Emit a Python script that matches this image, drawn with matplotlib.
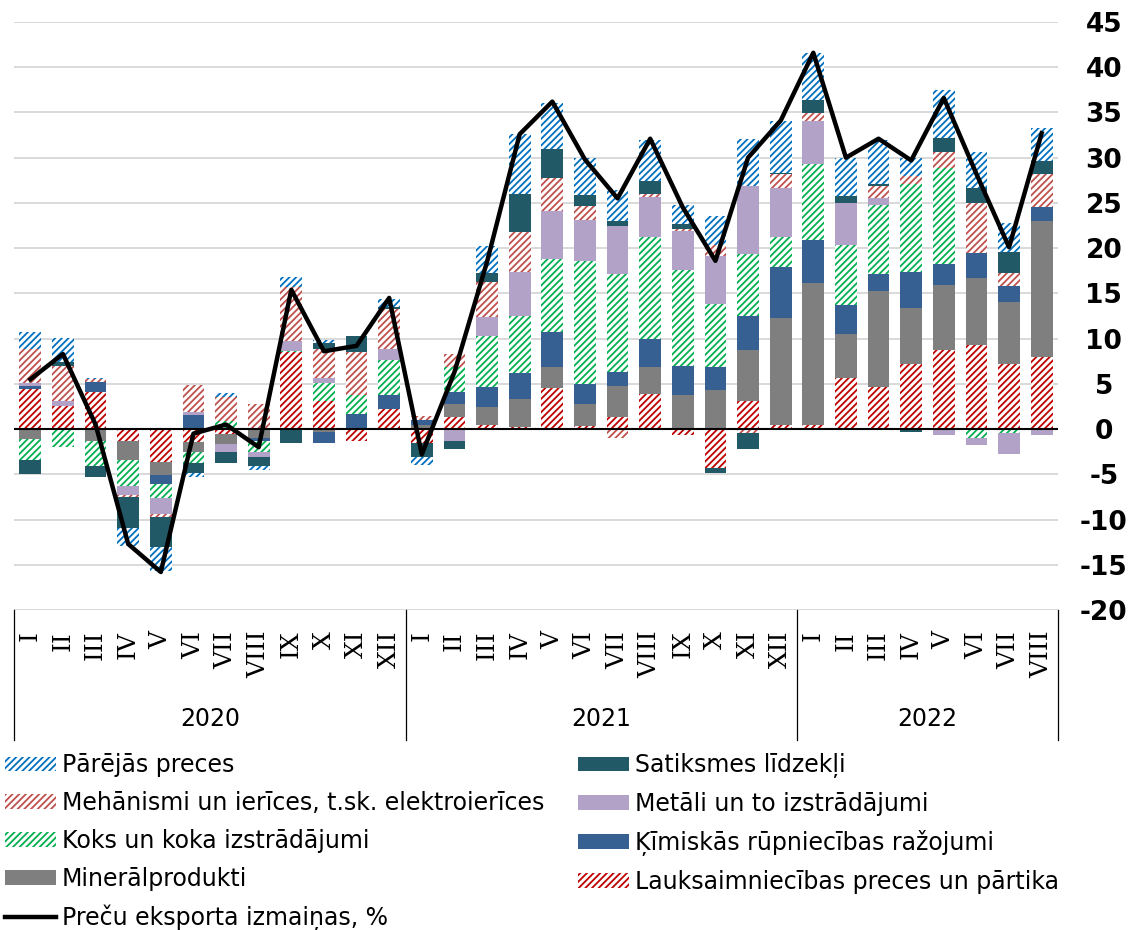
import matplotlib.pyplot as plt
import matplotlib.transforms as mtransforms
import numpy as np

# months 2020 I - 2022 VIII
roman = ['I', 'II', 'III', 'IV', 'V', 'VI', 'VII', 'VIII', 'IX', 'X', 'XI', 'XII']
months = roman + roman + roman[:8]
years = ['2020', '2021', '2022']

# contributions to export change, percentage points
lauks = [4.4, 2.6, 4.1, -1.3, -3.6, -1.4, -0.5, 0, 8.5, 3.1, -1.3, 2.2,
         -1.5, 1.3, 0.4, 0.2, 4.5, 0.3, 1.3, 3.9, -0.7, -4.3, 3.1, 0.4,
         0.4, 5.6, 4.6, 7.2, 8.7, 9.3, 7.2, 8.0]
mineral = [-1.1, 0, -1.3, -2.1, -1.5, -1.1, -1.1, -1.0, 0, -0.3, 0, 0,
           0.5, 1.5, 2.0, 3.1, 2.4, 2.5, 3.5, 3.0, 3.8, 4.3, 5.6, 11.9,
           15.7, 4.9, 10.7, 6.2, 7.2, 7.4, 6.8, 15.0]
kimiskas = [0.4, 0, 1.1, 0, -1.0, 1.6, 0, -0.3, 0, -1.2, 1.7, 1.6,
            0.5, 1.3, 2.2, 2.9, 3.8, 2.2, 1.5, 3.1, 3.2, 2.6, 3.8, 5.6,
            4.8, 3.2, 1.8, 4.0, 2.3, 2.8, 1.8, 1.6]
koks = [-2.3, -2.0, -2.8, -2.9, -1.5, -1.3, 0.9, -1.2, 0.1, 2.0, 2.1, 3.8,
        0, 2.8, 5.7, 6.3, 8.1, 13.6, 10.8, 11.2, 10.6, 6.9, 6.9, 3.3,
        8.4, 6.7, 7.7, 9.7, 10.7, -1.0, -0.4, 0]
metali = [0.3, 0.5, 0, -1.0, -1.8, 0.3, -0.9, -0.6, 1.1, 0.5, 0, 1.2,
          0, -1.3, 2.1, 4.9, 5.3, 4.5, 5.3, 4.5, 4.3, 5.3, 7.5, 5.4,
          4.8, 4.6, 0.7, 0, -0.7, -0.8, -2.4, -0.7]
mehanismi = [3.7, 3.9, 0.3, -0.2, -0.3, 3.0, 2.7, 2.8, 6.0, 3.2, 4.7, 4.5,
             0.4, 1.4, 3.9, 4.4, 3.6, 1.6, -1.0, 0.3, 0.2, 1.3, -0.4, 1.6,
             0.8, 0, 1.4, 0.9, 1.7, 5.5, 1.5, 3.6]
satiksme = [-1.6, 0.4, -1.2, -3.4, -3.3, -1.1, -1.2, -1.0, -1.5, 0.7, 1.8, 0.2,
            -1.6, -0.9, 1.0, 4.2, 3.3, 1.2, 0.6, 1.4, 0.6, -0.6, -1.8, 0.1,
            1.5, 0.8, 0.2, -0.3, 1.6, 1.7, 2.3, 1.4]
parejas = [1.9, 2.7, 0.2, -2.0, -2.7, -0.4, 0.4, -0.4, 1.1, 0.4, 0, 0.9,
           -0.9, 0, 2.9, 6.6, 5.0, 4.1, 3.4, 4.6, 2.1, 3.1, 5.2, 5.8,
           5.2, 4.2, 4.9, 2.0, 5.3, 3.9, 3.2, 3.7]
eksports = [5.5, 8.3, 0.5, -12.7, -15.8, -0.5, 0.5, -2.0, 15.4, 8.6, 9.2, 14.5,
            -2.8, 6.3, 18.5, 32.6, 36.2, 29.8, 25.5, 32.1, 24.5, 18.6, 30.0, 34.1,
            41.6, 30.0, 32.1, 29.7, 36.6, 28.2, 20.1, 32.7]

# (values, label, colour, hatched?)  - stacking order from the zero line out
series = [
    (lauks, 'Lauksaimniecības preces un pārtika', '#C00000', True),
    (mineral, 'Minerālprodukti', '#7F7F7F', False),
    (kimiskas, 'Ķīmiskās rūpniecības ražojumi', '#376092', False),
    (koks, 'Koks un koka izstrādājumi', '#00B050', True),
    (metali, 'Metāli un to izstrādājumi', '#B3A2C7', False),
    (mehanismi, 'Mehānismi un ierīces, t.sk. elektroierīces', '#C0504D', True),
    (satiksme, 'Satiksmes līdzekļi', '#215967', False),
    (parejas, 'Pārējās preces', '#0070C0', True),
]

plt.rcParams['hatch.linewidth'] = 1.3

fig = plt.figure(figsize=(11.42, 9.30), dpi=100)
ax = fig.add_axes([14 / 1142, 1 - 610 / 930, 1044 / 1142, 588 / 930])

x = np.arange(len(months))
width = 0.67
pos = np.zeros(len(x))
neg = np.zeros(len(x))
handles = {}
for vals, label, col, hatched in series:
    v = np.array(vals, dtype=float)
    bottom = np.where(v >= 0, pos, neg)
    if hatched:
        b = ax.bar(x, v, width, bottom=bottom, color='white', edgecolor=col,
                   hatch='/////', linewidth=0, label=label, zorder=2)
    else:
        b = ax.bar(x, v, width, bottom=bottom, color=col, linewidth=0,
                   label=label, zorder=2)
    handles[label] = b
    pos += np.clip(v, 0, None)
    neg += np.clip(v, None, 0)

ax.axhline(0, color='black', lw=1.5, zorder=3)
ln, = ax.plot(x, eksports, color='black', lw=3.2, zorder=4)
handles['Preču eksporta izmaiņas, %'] = ln

# axes
ax.set_xlim(-0.5, len(x) - 0.5)
ax.set_ylim(-20, 45)
for s in ax.spines.values():
    s.set_visible(False)
ax.set_axisbelow(True)
ax.yaxis.grid(True, color='#D9D9D9', lw=1.4)
ax.yaxis.tick_right()
yt = list(range(-20, 50, 5))
ax.set_yticks(yt)
ax.set_yticklabels([str(t) for t in yt], fontsize=19, fontweight='bold', ha='center')
ax.tick_params(axis='y', length=0, pad=33)
ax.set_xticks(x)
ax.set_xticklabels(months, rotation=90, fontsize=18, family='DejaVu Serif')
ax.tick_params(axis='x', length=0, pad=15)

# year groups under the month labels
trans = mtransforms.blended_transform_factory(ax.transData, ax.transAxes)
for xs in [-0.5, 11.5, 23.5, 31.5]:
    ax.plot([xs, xs], [0, -0.221], transform=trans, color='black', lw=0.9, clip_on=False)
for i, yr in enumerate(years):
    start = i * 12 - 0.5
    end = min(start + 12, len(x) - 0.5)
    ax.text((start + end) / 2, -0.186, yr, transform=trans, ha='center', va='center', fontsize=17)

# legend in two columns
col1 = ['Pārējās preces', 'Mehānismi un ierīces, t.sk. elektroierīces',
        'Koks un koka izstrādājumi', 'Minerālprodukti', 'Preču eksporta izmaiņas, %']
col2 = ['Satiksmes līdzekļi', 'Metāli un to izstrādājumi',
        'Ķīmiskās rūpniecības ražojumi', 'Lauksaimniecības preces un pārtika']
legkw = dict(loc='upper left', frameon=False, borderpad=0, borderaxespad=0, fontsize=17,
             handlelength=2.16, handleheight=0.55, handletextpad=0.25, labelspacing=0.59)
fig.legend([handles[k] for k in col1], col1, bbox_to_anchor=(5 / 1142, 1 - 753 / 930), **legkw)
fig.legend([handles[k] for k in col2], col2, bbox_to_anchor=(578 / 1142, 1 - 753 / 930), **legkw)

plt.savefig('out.png', dpi=100)
